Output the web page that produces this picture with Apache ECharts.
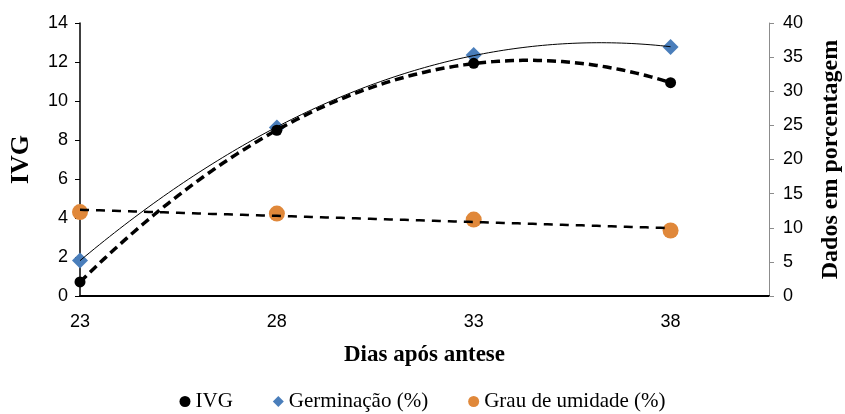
<!DOCTYPE html>
<html>
<head>
<meta charset="utf-8">
<script src="https://cdn.jsdelivr.net/npm/echarts@6/dist/echarts.min.js"></script>
<style>
  html, body { margin: 0; padding: 0; background: #fff; }
  #chart { width: 845px; height: 414px; }
</style>
</head>
<body>
<div id="chart"></div>
<script>
// Days after anthesis
const dias = [23, 28, 33, 38];
// Germination speed index (left axis)
const ivg = [0.72, 8.5, 11.93, 10.94];
// Germination, % (right axis)
const germinacao = [5.2, 24.7, 35.3, 36.5];
// Seed moisture content, % (right axis)
const umidade = [12.3, 12.07, 11.2, 9.6];

// Least-squares polynomial fit of given degree; returns coefficients c0..cn
function polyfit(xs, ys, degree) {
  const n = degree + 1;
  const A = [];
  for (let r = 0; r < n; r++) {
    A.push(new Array(n + 1).fill(0));
  }
  for (let i = 0; i < xs.length; i++) {
    for (let r = 0; r < n; r++) {
      for (let c = 0; c < n; c++) A[r][c] += Math.pow(xs[i], r + c);
      A[r][n] += ys[i] * Math.pow(xs[i], r);
    }
  }
  // Gaussian elimination
  for (let p = 0; p < n; p++) {
    let max = p;
    for (let r = p + 1; r < n; r++) if (Math.abs(A[r][p]) > Math.abs(A[max][p])) max = r;
    [A[p], A[max]] = [A[max], A[p]];
    for (let r = p + 1; r < n; r++) {
      const f = A[r][p] / A[p][p];
      for (let c = p; c <= n; c++) A[r][c] -= f * A[p][c];
    }
  }
  const coef = new Array(n).fill(0);
  for (let r = n - 1; r >= 0; r--) {
    let s = A[r][n];
    for (let c = r + 1; c < n; c++) s -= A[r][c] * coef[c];
    coef[r] = s / A[r][r];
  }
  return coef;
}

// Sample the fitted trend curve across the observed range
function trend(xs, ys, degree) {
  const coef = polyfit(xs, ys, degree);
  const pts = [];
  const x0 = xs[0], x1 = xs[xs.length - 1];
  const steps = 120;
  for (let k = 0; k <= steps; k++) {
    const x = x0 + (x1 - x0) * k / steps;
    let y = 0;
    for (let j = 0; j < coef.length; j++) y += coef[j] * Math.pow(x, j);
    pts.push([x, y]);
  }
  return pts;
}

const pairs = (xs, ys) => xs.map((x, i) => [x, ys[i]]);

const sans = 'Liberation Sans, Arial, sans-serif';
const serif = 'Liberation Serif, Times New Roman, serif';
const blue = '#4a7ebb';
const orange = '#e0883a';

const chart = echarts.init(document.getElementById('chart'));
chart.setOption({
  animation: false,
  backgroundColor: '#fff',
  grid: { left: 80, right: 76, top: 23, bottom: 118, outerBoundsMode: 'none' },
  legend: {
    bottom: -3,
    left: 'center',
    itemWidth: 11,
    itemHeight: 11,
    itemGap: 40,
    textStyle: { fontFamily: serif, fontSize: 21, color: '#000' },
    data: [
      { name: 'IVG', icon: 'circle' },
      { name: 'Germinação (%)', icon: 'diamond' },
      { name: 'Grau de umidade (%)', icon: 'circle' }
    ]
  },
  xAxis: {
    type: 'value',
    min: 23,
    max: 40.5,
    interval: 5,
    name: 'Dias após antese',
    nameLocation: 'middle',
    nameGap: 48,
    nameTextStyle: { fontFamily: serif, fontSize: 23, fontWeight: 'bold', color: '#000' },
    axisLine: { show: true, lineStyle: { color: '#000', width: 2 } },
    axisTick: { show: false },
    splitLine: { show: false },
    axisLabel: { showMaxLabel: false, margin: 17, fontFamily: sans, fontSize: 18, color: '#000' }
  },
  yAxis: [
    {
      type: 'value',
      min: 0,
      max: 14,
      interval: 2,
      name: 'IVG',
      nameLocation: 'middle',
      nameRotate: 90,
      nameGap: 46,
      nameTextStyle: { fontFamily: serif, fontSize: 26, fontWeight: 'bold', color: '#000' },
      axisLine: { show: true, lineStyle: { color: '#000', width: 1.5 } },
      axisTick: { show: true, length: 5, lineStyle: { color: '#000' } },
      splitLine: { show: false },
      axisLabel: { margin: 12, fontFamily: sans, fontSize: 18, color: '#000' }
    },
    {
      type: 'value',
      min: 0,
      max: 40,
      interval: 5,
      position: 'right',
      name: 'Dados em porcentagem',
      nameLocation: 'middle',
      nameRotate: 90,
      nameGap: 50,
      nameTextStyle: { fontFamily: serif, fontSize: 24, fontWeight: 'bold', color: '#000' },
      axisLine: { show: true, lineStyle: { color: '#8c8c8c', width: 1 } },
      axisTick: { show: true, length: 5, lineStyle: { color: '#8c8c8c' } },
      splitLine: { show: false },
      axisLabel: { margin: 14, fontFamily: sans, fontSize: 18, color: '#000' }
    }
  ],
  series: [
    {
      name: 'IVG',
      type: 'scatter',
      yAxisIndex: 0,
      symbol: 'circle',
      symbolSize: 11,
      itemStyle: { color: '#000', opacity: 1 },
      z: 3,
      data: pairs(dias, ivg)
    },
    {
      name: 'Germinação (%)',
      type: 'scatter',
      yAxisIndex: 1,
      symbol: 'diamond',
      symbolSize: 16,
      itemStyle: { color: blue, opacity: 1 },
      z: 2,
      data: pairs(dias, germinacao)
    },
    {
      name: 'Grau de umidade (%)',
      type: 'scatter',
      yAxisIndex: 1,
      symbol: 'circle',
      symbolSize: 16,
      itemStyle: { color: orange, opacity: 1 },
      z: 2,
      data: pairs(dias, umidade)
    },
    {
      name: 'IVG tendência',
      type: 'line',
      yAxisIndex: 0,
      showSymbol: false,
      silent: true,
      z: 5,
      lineStyle: { color: '#000', width: 3.5, type: [9, 5] },
      data: trend(dias, ivg, 2)
    },
    {
      name: 'Germinação tendência',
      type: 'line',
      yAxisIndex: 1,
      showSymbol: false,
      silent: true,
      z: 5,
      lineStyle: { color: '#000', width: 1 },
      data: trend(dias, germinacao, 2)
    },
    {
      name: 'Umidade tendência',
      type: 'line',
      yAxisIndex: 1,
      showSymbol: false,
      silent: true,
      z: 5,
      lineStyle: { color: '#000', width: 2.5, type: [9, 7] },
      data: trend(dias, umidade, 1)
    }
  ]
});
</script>
</body>
</html>
